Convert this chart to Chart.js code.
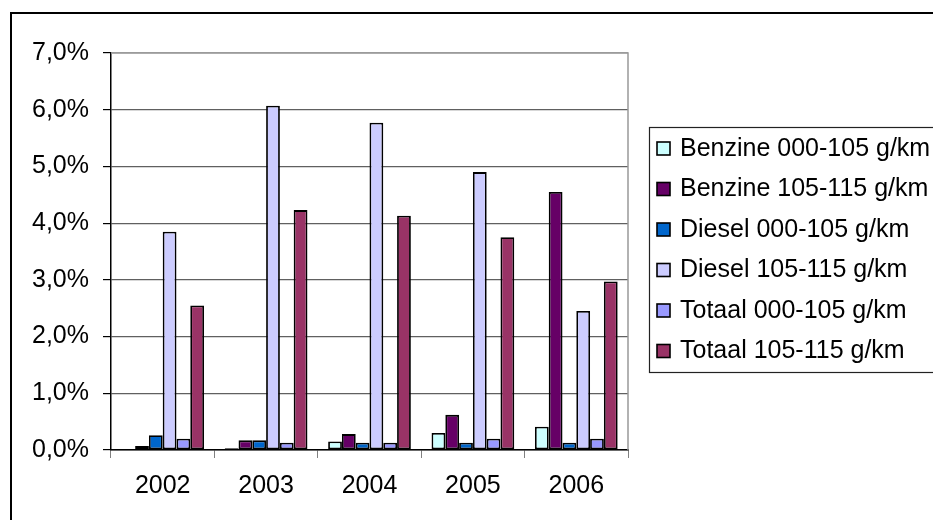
<!DOCTYPE html>
<html lang="nl">
<head>
  <meta charset="UTF-8" />
  <title>Aandeel zuinige auto's 2002-2006</title>
  <script src="https://cdn.jsdelivr.net/npm/chart.js"></script>
  <style>
    html, body { margin: 0; padding: 0; background: #fff; overflow: hidden; }
    #wrap { width: 933px; height: 520px; position: relative; }
  </style>
</head>
<body>
  <div id="wrap"><canvas id="chart"></canvas></div>

  <script>
    // jaren en percentages per categorie
    const years = ['2002', '2003', '2004', '2005', '2006'];
    const benzine000 = [0.00, 0.03, 0.15, 0.30, 0.41];
    const benzine105 = [0.07, 0.17, 0.28, 0.62, 4.55];
    const diesel000 = [0.26, 0.17, 0.13, 0.13, 0.13];
    const diesel105 = [3.85, 6.07, 5.77, 4.90, 2.45];
    const totaal000 = [0.20, 0.13, 0.13, 0.20, 0.20];
    const totaal105 = [2.55, 4.23, 4.13, 3.75, 2.97];

    const seriesNames = [
      'Benzine 000-105 g/km', 'Benzine 105-115 g/km',
      'Diesel 000-105 g/km', 'Diesel 105-115 g/km',
      'Totaal 000-105 g/km', 'Totaal 105-115 g/km'
    ];
    const seriesData = [benzine000, benzine105, diesel000, diesel105, totaal000, totaal105];
    const seriesColors = ['#CCFFFF', '#660066', '#0066CC', '#CCCCFF', '#9999FF', '#993366'];

    const FONT = 'Arial, "Liberation Sans", sans-serif';
    const FONT_SIZE = 25;

    // kader rond de grafiek + rand van het plotgebied
    const frame = {
      id: 'frame',
      beforeDraw(chart) {
        const ctx = chart.ctx;
        ctx.save();
        ctx.fillStyle = '#fff';
        ctx.fillRect(0, 0, chart.width, chart.height);
        ctx.strokeStyle = '#000';
        ctx.lineWidth = 2;
        ctx.strokeRect(11, 13, 960, 540);
        ctx.restore();
      },
      beforeDatasetsDraw(chart) {
        const ctx = chart.ctx;
        const a = chart.chartArea;
        ctx.save();
        ctx.strokeStyle = '#999';
        ctx.lineWidth = 1.5;
        ctx.beginPath();
        ctx.moveTo(a.left, a.top);
        ctx.lineTo(a.right, a.top);
        ctx.lineTo(a.right, a.bottom);
        ctx.stroke();
        ctx.restore();
      }
    };

    // legenda rechts, in een eigen kader
    const sideLegend = {
      id: 'sideLegend',
      afterDraw(chart) {
        const ctx = chart.ctx;
        const x = 649, y = 127, rowH = 40.5;
        ctx.save();
        ctx.strokeStyle = '#222';
        ctx.lineWidth = 1.2;
        ctx.strokeRect(x + 0.5, y + 0.5, 400, 245);
        ctx.font = FONT_SIZE + 'px ' + FONT;
        ctx.textBaseline = 'middle';
        chart.data.datasets.forEach((ds, i) => {
          const cy = y + 21 + i * rowH;
          ctx.fillStyle = ds.backgroundColor;
          ctx.fillRect(x + 8, cy - 6, 13, 13);
          ctx.lineWidth = 1.6;
          ctx.strokeStyle = '#000';
          ctx.strokeRect(x + 8, cy - 6, 13, 13);
          ctx.fillStyle = '#000';
          ctx.fillText(ds.label, x + 31, cy + 1);
        });
        ctx.restore();
      }
    };

    new Chart(document.getElementById('chart'), {
      type: 'bar',
      data: {
        labels: years,
        datasets: seriesNames.map((name, i) => ({
          label: name,
          data: seriesData[i],
          backgroundColor: seriesColors[i],
          borderColor: '#000',
          borderWidth: 1.8,
          borderSkipped: false,
          categoryPercentage: 0.8,
          barPercentage: 1.0
        }))
      },
      options: {
        responsive: true,
        maintainAspectRatio: false,
        animation: false,
        layout: { padding: { top: 53, right: 305, left: 0, bottom: 0 } },
        plugins: {
          legend: { display: false },
          tooltip: { enabled: false }
        },
        scales: {
          x: {
            offset: true,
            grid: {
              offset: true,
              drawOnChartArea: false,
              color: '#808080',
              tickLength: 8
            },
            border: { color: '#000', width: 1.5 },
            ticks: {
              color: '#000',
              padding: 13,
              font: { family: FONT, size: FONT_SIZE }
            },
            afterFit(scale) { scale.height = 70; }
          },
          y: {
            min: 0,
            max: 7,
            grid: {
              color: ctx => ctx.tick && ctx.tick.value === 7 ? '#a0a0a0' : '#606060',
              lineWidth: 1.2,
              tickColor: '#000',
              tickLength: 8
            },
            border: { color: '#000', width: 1.5 },
            ticks: {
              stepSize: 1,
              color: '#000',
              padding: 14,
              font: { family: FONT, size: FONT_SIZE },
              callback: v => v.toFixed(1).replace('.', ',') + '%'
            },
            afterFit(scale) { scale.width = 111; }
          }
        }
      },
      plugins: [frame, sideLegend]
    });
  </script>
</body>
</html>
